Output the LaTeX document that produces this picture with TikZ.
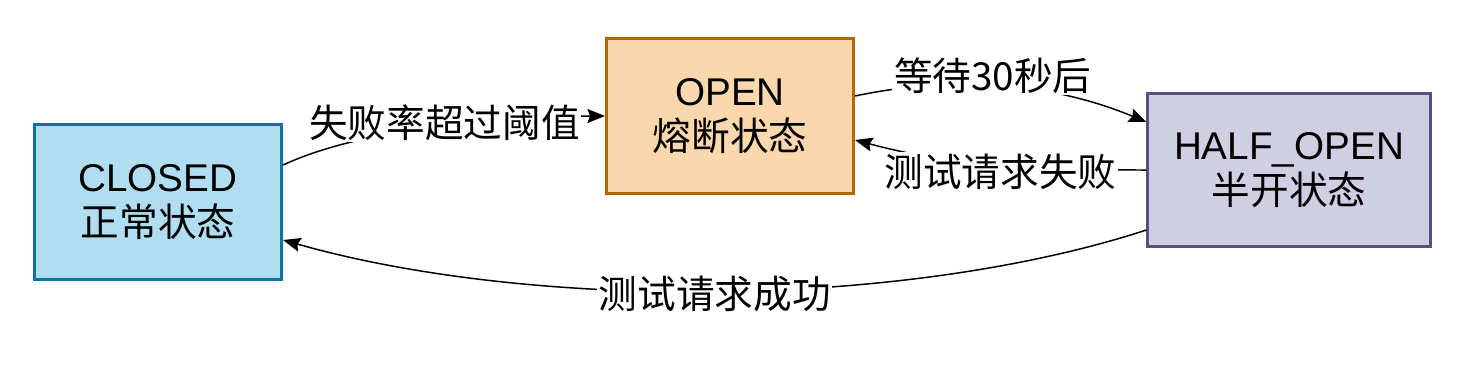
\documentclass[tikz,border=0pt]{standalone}
\usepackage{fontspec}
\setmainfont{Liberation Sans}
\newfontfamily\cjk{Noto Sans CJK SC}
\usepackage{xcolor}
\usepackage{tikz}
\usetikzlibrary{positioning, arrows.meta}

\definecolor{closedfill}{HTML}{B1DDF0}
\definecolor{closedline}{HTML}{10739E}
\definecolor{openfill}{HTML}{FAD7AC}
\definecolor{openline}{HTML}{B46504}
\definecolor{halffill}{HTML}{D0CEE2}
\definecolor{halfline}{HTML}{56517E}

\begin{document}
\begin{tikzpicture}[
        x=0.02cm, y=-0.02cm,
        font=\fontsize{22}{26}\selectfont,
        state/.style={rectangle, draw, line width=1.5pt, minimum width=4.95cm, minimum height=3.1cm, align=center},
        arrow/.style={-{Stealth[length=10pt, width=8pt, inset=1.5pt]}, line width=0.85pt},
        lbl/.style={fill=white, inner sep=1pt},
    ]
        \useasboundingbox (0,0) rectangle (1482,376);

        % States
        \node[state, fill=closedfill, draw=closedline] (closed) at (158,202) {CLOSED\\{\cjk 正常状态}};
        \node[state, fill=openfill, draw=openline] (open) at (730,116) {OPEN\\{\cjk 熔断状态}};
        \node[state, fill=halffill, draw=halfline, minimum width=5.65cm, minimum height=3.05cm] (half) at (1289,170) {HALF\_OPEN\\{\cjk 半开状态}};

        % Transitions
        \draw[arrow] ([yshift=0.74cm]closed.east) .. controls +(86,-40) and +(-85,0) .. node[lbl, pos=0.5, yshift=0.06cm] {\cjk 失败率超过阈值} (open.west);
        \draw[arrow] ([yshift=0.4cm]open.east) .. controls +(85,-18) and +(-106,-44) .. node[lbl, pos=0.5, yshift=0.2cm] {\cjk 等待30秒后} ([yshift=0.96cm]half.west);
        \draw[arrow] (half.west) .. controls +(-106,0) and +(105,28) .. node[lbl, pos=0.5, yshift=-0.12cm] {\cjk 测试请求失败} ([yshift=-0.48cm]open.east);
        \draw[arrow] ([yshift=-1.2cm]half.west) .. controls +(-246,80) and +(246,70) .. node[lbl, pos=0.5, yshift=-0.05cm] {\cjk 测试请求成功} ([yshift=-0.76cm]closed.east);

    \end{tikzpicture}
\end{document}
